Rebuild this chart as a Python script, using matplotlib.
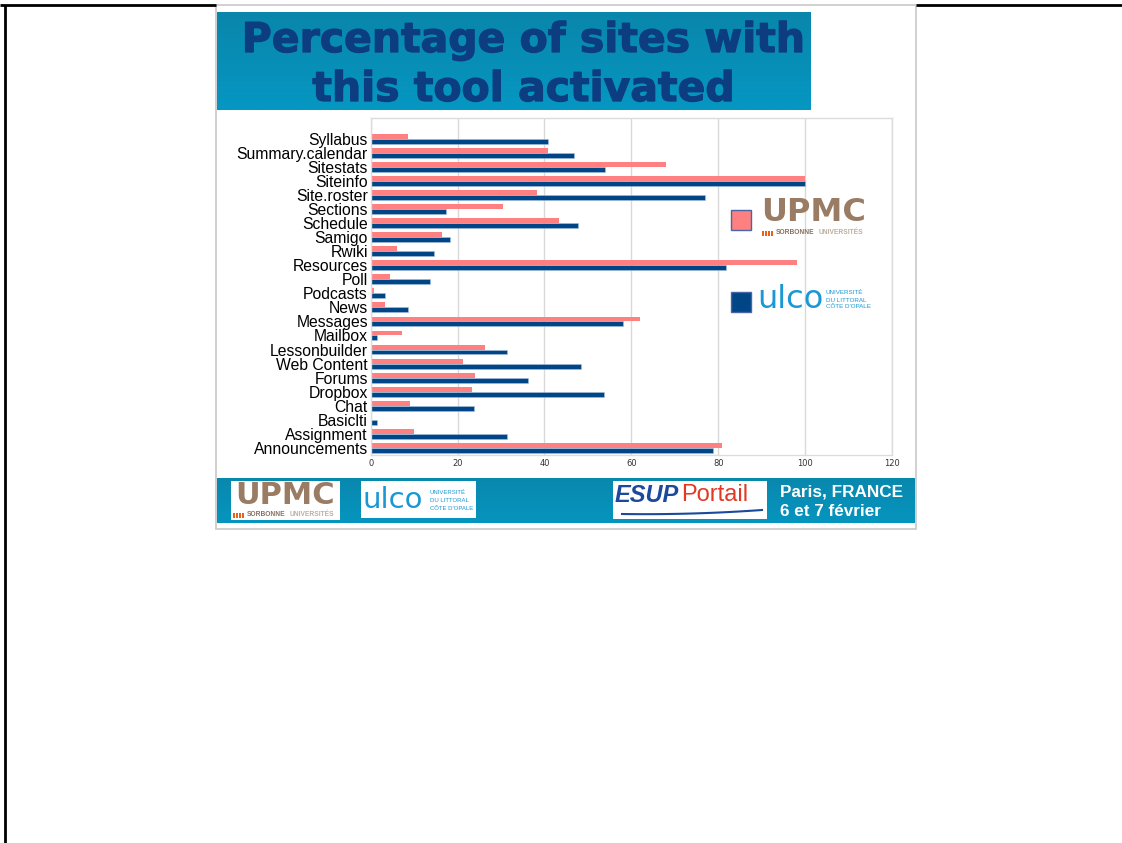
import matplotlib
matplotlib.use("Agg")
import matplotlib.pyplot as plt
import matplotlib.patheffects as pe
import numpy as np
from matplotlib.patches import Rectangle

categories = ["Syllabus", "Summary.calendar", "Sitestats", "Siteinfo", "Site.roster",
              "Sections", "Schedule", "Samigo", "Rwiki", "Resources", "Poll", "Podcasts",
              "News", "Messages", "Mailbox", "Lessonbuilder", "Web Content", "Forums",
              "Dropbox", "Chat", "Basiclti", "Assignment", "Announcements"]
upmc = [8.7, 40.7, 68.0, 100.0, 38.2, 30.4, 43.4, 16.3, 6.0, 98.2, 4.4, 0.8,
        3.4, 62.1, 7.3, 26.3, 21.3, 23.9, 23.3, 9.0, 0.2, 9.9, 80.8]
ulco = [40.7, 46.8, 53.9, 100.0, 77.0, 17.4, 47.8, 18.3, 14.6, 81.8, 13.6, 3.2,
        8.7, 58.1, 1.4, 31.4, 48.5, 36.3, 53.6, 23.7, 1.4, 31.4, 78.8]
xticks = [0, 20, 40, 60, 80, 100, 120]
title_lines = ["Percentage of sites with", "this tool activated"]

W, H = 1122, 843
fig = plt.figure(figsize=(W / 100, H / 100), dpi=100)

def ax_rect(x0, y0, x1, y1):
    return [x0 / W, 1 - y1 / H, (x1 - x0) / W, (y1 - y0) / H]

# background overlay (pixel coords)
bg = fig.add_axes([0, 0, 1, 1], zorder=0)
bg.set_xlim(0, W); bg.set_ylim(H, 0); bg.axis("off")

# outer black lines
bg.plot([0, 216], [5, 5], color="black", lw=2, solid_capstyle="butt")
bg.plot([916, W], [5, 5], color="black", lw=2, solid_capstyle="butt")
bg.plot([5, 5], [5, H], color="black", lw=2, solid_capstyle="butt")
# slide
bg.add_patch(Rectangle((216, 5), 700, 524, facecolor="white", edgecolor="#c8c8c8", lw=1.2))

def gradient_band(ax, x0, y0, x1, y1, c_top, c_bot):
    ct = np.array(matplotlib.colors.to_rgb(c_top))
    cb = np.array(matplotlib.colors.to_rgb(c_bot))
    t = np.linspace(0, 1, 64)[:, None]
    img = (ct[None, :] * (1 - t) + cb[None, :] * t)[:, None, :]
    ax.imshow(img, extent=(x0, x1, y1, y0), aspect="auto", interpolation="bilinear", zorder=1)

# title band
gradient_band(bg, 217, 12, 811, 110, "#0a86ab", "#0597c2")
heavy = [pe.withStroke(linewidth=0.9, foreground="#0c3d80")]
bg.text(524, 52, title_lines[0], ha="center", va="baseline", color="#0c3d80",
        fontsize=29.5, fontweight="bold", family="DejaVu Sans", zorder=3, path_effects=heavy)
bg.text(524, 101, title_lines[1], ha="center", va="baseline", color="#0c3d80",
        fontsize=29.5, fontweight="bold", family="DejaVu Sans", zorder=3, path_effects=heavy)

# footer band
gradient_band(bg, 217, 478, 915, 523, "#0a88ae", "#0595bf")
for (x0, y0, x1, y1) in [(231, 481, 340, 520), (361, 481, 476, 518), (613, 481, 767, 519)]:
    bg.add_patch(Rectangle((x0, y0), x1 - x0, y1 - y0, facecolor="white", edgecolor="none", zorder=2))
bg.text(780, 492, "Paris, FRANCE", color="white", fontsize=12.3, fontweight="bold",
        family="Liberation Sans", va="center", ha="left", zorder=3)
bg.text(780, 511, "6 et 7 février", color="white", fontsize=12.3, fontweight="bold",
        family="Liberation Sans", va="center", ha="left", zorder=3)

def upmc_logo(ax, x, y, big, small, gap):
    # x,y : left/top of the logo (pixels); width about 105 px
    ax.text(x + 52, y - 3, "UPMC", color="#9a7b63", fontsize=big, fontweight="bold",
            family="DejaVu Sans", ha="center", va="top", zorder=4)
    sy = y + gap
    for k in range(4):
        ax.add_patch(Rectangle((x + k * 3, sy - 2.5), 2, 5, facecolor="#e8601c",
                               edgecolor="none", zorder=4))
    ax.text(x + 14, sy, "SORBONNE", color="#86705e", fontsize=small, fontweight="bold",
            ha="left", va="center", family="Liberation Sans", zorder=4)
    ax.text(x + 57, sy, "UNIVERSITÉS", color="#bcae9f", fontsize=small, fontweight="bold",
            ha="left", va="center", family="Liberation Sans", zorder=4)

def ulco_logo(ax, x, y, big, small, dx, lh):
    ax.text(x, y, "ulco", color="#1a98d5", fontsize=big, ha="left", va="center",
            family="DejaVu Sans", zorder=4)
    for i, s in enumerate(["UNIVERSITÉ", "DU LITTORAL", "CÔTE D'OPALE"]):
        ax.text(x + dx, y - lh + i * lh, s, color="#1a98d5", fontsize=small, ha="left",
                va="center", family="Liberation Sans", zorder=4)

upmc_logo(bg, 233, 484, 22, 4.8, 31)
ulco_logo(bg, 363, 500, 21, 4.3, 67, 8)
bg.text(615, 495, "ESUP", color="#1b4a9c", fontsize=17, fontweight="bold", style="italic",
        family="Liberation Sans", ha="left", va="center", zorder=4)
bg.text(681, 495, "Portail", color="#e03a25", fontsize=17, family="Liberation Sans",
        ha="left", va="center", zorder=4)
xs = np.linspace(622, 762, 50)
bg.plot(xs, 514 - 6 * ((xs - 622) / 140) ** 2 + 2 * ((xs - 622) / 140), color="#1b4a9c",
        lw=1.5, zorder=4)

# chart axes
ax = fig.add_axes(ax_rect(370.7, 118, 892, 455), zorder=1)
y = np.arange(len(categories))
bh = 0.35
ax.barh(y - bh / 2, upmc, height=bh, color="#ff8080", edgecolor="none", zorder=2)
ax.barh(y + bh / 2, ulco, height=bh, color="#004586", edgecolor="#a8c0dc", lw=0.4, zorder=2)
ax.set_ylim(len(categories) - 0.5, -1.47)
ax.set_xlim(0, 120)
ax.set_yticks(y)
ax.set_yticklabels(categories, fontsize=11.3, family="Liberation Sans", color="black")
ax.set_xticks(xticks)
ax.set_xticklabels([str(v) for v in xticks], fontsize=6, family="DejaVu Sans", color="#333333")
ax.tick_params(axis="both", length=0, pad=2)
ax.tick_params(axis="x", pad=3)
ax.grid(axis="x", color="#d9d9d9", lw=1, zorder=0)
ax.set_axisbelow(True)
for s in ax.spines.values():
    s.set_color("#dcdcdc")
    s.set_linewidth(1)

# foreground overlay for legend
fg = fig.add_axes([0, 0, 1, 1], zorder=2)
fg.set_xlim(0, W); fg.set_ylim(H, 0); fg.axis("off"); fg.patch.set_alpha(0)
fg.add_patch(Rectangle((731, 210), 20, 20, facecolor="#ff8080", edgecolor="#4a64a8", lw=1))
fg.add_patch(Rectangle((731, 292), 20, 20, facecolor="#004586", edgecolor="#4a64a8", lw=1))
upmc_logo(fg, 762, 200, 23, 4.8, 33)
ulco_logo(fg, 757, 300, 23, 4.5, 69, 7)

fig.savefig("out.png", dpi=100)
